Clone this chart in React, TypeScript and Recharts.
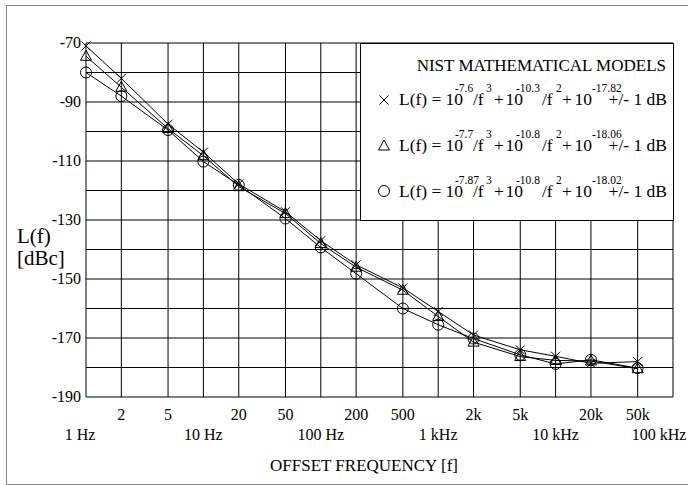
import React from 'react'
import { LineChart, Line, XAxis, YAxis, CartesianGrid } from 'recharts'

// offset frequency in Hz
const freqs = [1, 2, 5, 10, 20, 50, 100, 200, 500, 1000, 2000, 5000, 10000, 20000, 50000]

// L(f) in dBc
const crossModel = [-71, -82, -97.5, -107, -117.8, -127.2, -137, -145.2, -153, -161, -169, -174, -176.2, -178.6, -178]
const triangleModel = [-74.5, -85, -99, -108.2, -118.7, -127.8, -138, -146, -153.8, -162.7, -171.4, -176.3, -177.6, -177.8, -180.4]
const circleModel = [-80, -88, -99.5, -110.2, -118.1, -129.5, -139.3, -148.2, -160, -165.5, -170.2, -175.7, -178.8, -177.4, -180.2]

const xTicks = [1, 2, 5, 10, 20, 50, 100, 200, 500, 1000, 2000, 5000, 10000, 20000, 50000, 100000]
const xTickLabels = ['1 Hz', '2', '5', '10 Hz', '20', '50', '100 Hz', '200', '500', '1 kHz', '2k', '5k', '10 kHz', '20k', '50k', '100 kHz']
const yTicks = [-190, -180, -170, -160, -150, -140, -130, -120, -110, -100, -90, -80, -70]
const yLabelled = [-190, -170, -150, -130, -110, -90, -70]

// legend exponents, one row per model
const modelExps = [
    ['-7.6', '-10.3', '-17.82'],
    ['-7.7', '-10.8', '-18.06'],
    ['-7.87', '-10.8', '-18.02'],
]

const data = freqs.map((f, i) => ({
    f,
    cross: crossModel[i],
    tri: triangleModel[i],
    circ: circleModel[i],
}))

const FONT = '"Liberation Serif", "Times New Roman", serif'

function XTick(props: any) {
    const { x, y, payload } = props
    const i = xTicks.indexOf(payload.value)
    const label = xTickLabels[i]
    const decade = i % 3 === 0
    let tx = x
    if (i === 0) tx = x - 6
    if (i === xTicks.length - 1) tx = x - 14
    return (
        <text x={tx} y={y + (decade ? 43 : 23)} textAnchor="middle" fontSize={16} fontFamily={FONT} fill="#000">
            {label}
        </text>
    )
}

function YTick(props: any) {
    const { x, y, payload } = props
    if (!yLabelled.includes(payload.value)) return null
    return (
        <text x={x - 5} y={y + 5} textAnchor="end" fontSize={16} fontFamily={FONT} fill="#000">
            {payload.value}
        </text>
    )
}

function CrossDot(props: any) {
    const { cx, cy } = props
    if (cx == null || cy == null) return null
    const s = 4.5
    return (
        <g>
            <line x1={cx - s} y1={cy - s} x2={cx + s} y2={cy + s} stroke="#000" strokeWidth={1} />
            <line x1={cx - s} y1={cy + s} x2={cx + s} y2={cy - s} stroke="#000" strokeWidth={1} />
        </g>
    )
}

function TriangleDot(props: any) {
    const { cx, cy } = props
    if (cx == null || cy == null) return null
    return <path d={`M${cx},${cy - 6} L${cx - 5.5},${cy + 4} L${cx + 5.5},${cy + 4} Z`} fill="none" stroke="#000" strokeWidth={1} />
}

function CircleDot(props: any) {
    const { cx, cy } = props
    if (cx == null || cy == null) return null
    return <circle cx={cx} cy={cy} r={5.5} fill="none" stroke="#000" strokeWidth={1} />
}

const rowY = [105, 151, 197]
const symY = [100, 146, 191]

function Equation({ row }: { row: number }) {
    const y = rowY[row]
    const [e1, e2, e3] = modelExps[row]
    const main = { fontSize: 17.5, fontFamily: FONT, fill: '#000' }
    const sup = { fontSize: 11.5, fontFamily: FONT, fill: '#000' }
    const sy = y - 13
    return (
        <g>
            <text x={399} y={y} {...main}>L(f) =</text>
            <text x={463} y={y} textAnchor="end" {...main}>10</text>
            <text x={455} y={sy} {...sup}>{e1}</text>
            <text x={473} y={y} {...main}>/f</text>
            <text x={486} y={sy} {...sup}>3</text>
            <text x={494} y={y} {...main}>+</text>
            <text x={523} y={y} textAnchor="end" {...main}>10</text>
            <text x={516} y={sy} {...sup}>{e2}</text>
            <text x={542} y={y} {...main}>/f</text>
            <text x={556} y={sy} {...sup}>2</text>
            <text x={562} y={y} {...main}>+</text>
            <text x={592} y={y} textAnchor="end" {...main}>10</text>
            <text x={592} y={sy} {...sup}>{e3}</text>
            <text x={667} y={y} textAnchor="end" {...main}>+/- 1 dB</text>
        </g>
    )
}

function LegendBox() {
    return (
        <svg width={688} height={485} style={{ position: 'absolute', left: 0, top: 0, pointerEvents: 'none' }}>
            <rect x={360.5} y={43.5} width={313} height={177} fill="#fff" stroke="#000" strokeWidth={1} />
            <text x={666} y={71} textAnchor="end" fontSize={17} fontFamily={FONT} fill="#000">
                NIST MATHEMATICAL MODELS
            </text>
            <CrossDot cx={384} cy={symY[0]} />
            <TriangleDot cx={384} cy={symY[1]} />
            <CircleDot cx={384} cy={symY[2]} />
            {modelExps.map((_, r) => <Equation key={r} row={r} />)}
        </svg>
    )
}

export default function App() {
    return (
        <div style={{ position: 'relative', width: 688, height: 485, overflow: 'hidden', background: '#fff' }}>
            <style>{'body{margin:0}'}</style>
            <div style={{ position: 'absolute', left: 6, top: 5, width: 700, height: 478, border: '1px solid #888' }} />
            <LineChart width={688} height={485} data={data} margin={{ top: 43, right: 15, bottom: 0, left: 0 }}>
                <CartesianGrid stroke="#000" strokeWidth={1} />
                <XAxis
                    dataKey="f"
                    type="number"
                    scale="log"
                    domain={[1, 100000]}
                    ticks={xTicks}
                    interval={0}
                    height={88}
                    axisLine={false}
                    tickLine={false}
                    tickSize={0}
                    tickMargin={0}
                    tick={<XTick />}
                />
                <YAxis
                    type="number"
                    domain={[-190, -70]}
                    ticks={yTicks}
                    interval={0}
                    width={86}
                    axisLine={false}
                    tickLine={false}
                    tickSize={0}
                    tickMargin={0}
                    tick={<YTick />}
                />
                <Line dataKey="cross" stroke="#000" strokeWidth={1} isAnimationActive={false}
                    dot={(p: any) => <CrossDot key={`x-${p.index}`} {...p} />} />
                <Line dataKey="tri" stroke="#000" strokeWidth={1} isAnimationActive={false}
                    dot={(p: any) => <TriangleDot key={`t-${p.index}`} {...p} />} />
                <Line dataKey="circ" stroke="#000" strokeWidth={1} isAnimationActive={false}
                    dot={(p: any) => <CircleDot key={`c-${p.index}`} {...p} />} />
            </LineChart>
            <LegendBox />
            <svg width={688} height={485} style={{ position: 'absolute', left: 0, top: 0, pointerEvents: 'none' }}>
                <text x={17} y={243} fontSize={21} fontFamily={FONT} fill="#000">L(f)</text>
                <text x={17} y={265} fontSize={21} fontFamily={FONT} fill="#000">[dBc]</text>
                <text x={364} y={471} textAnchor="middle" fontSize={17} fontFamily={FONT} fill="#000">
                    OFFSET FREQUENCY [f]
                </text>
            </svg>
        </div>
    )
}
